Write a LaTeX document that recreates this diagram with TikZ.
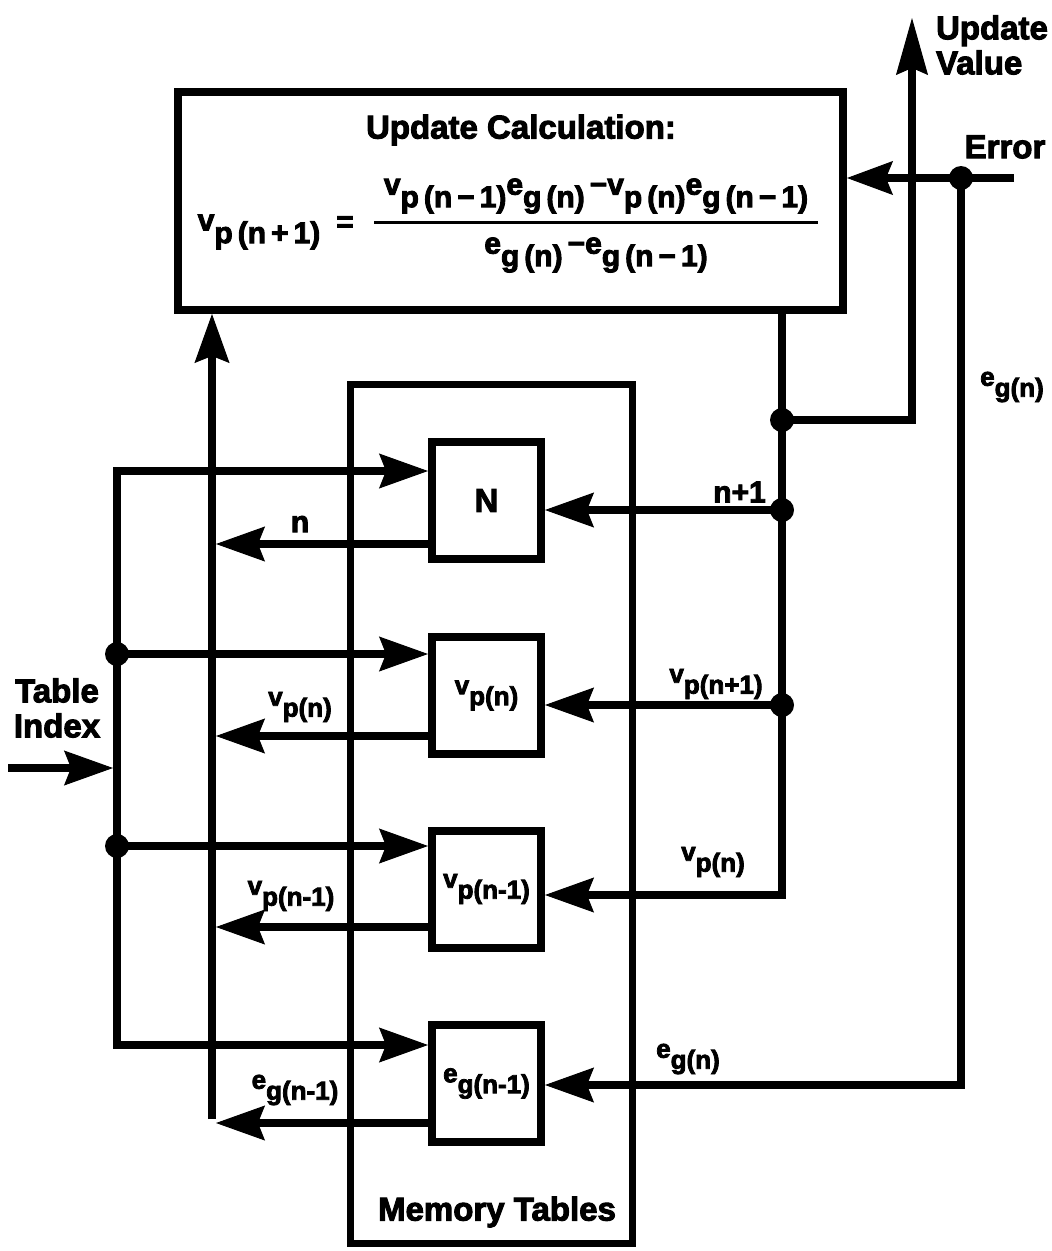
\documentclass[tikz,border=0pt]{standalone}
\usepackage{fontspec}
\setmainfont{Liberation Sans}[BoldFeatures={FakeBold=3}]
\usetikzlibrary{arrows.meta}
\newcommand\vsb[2]{#1\raisebox{-0.42em}{#2}}
\newcommand\bigf{\fontsize{33}{35}\selectfont\bfseries}
\newcommand\subf{\fontsize{26}{27}\selectfont\bfseries}
\newcommand\eqf{\fontsize{30}{32}\selectfont\bfseries}
\newcommand\midf{\fontsize{30}{32}\selectfont\bfseries}
\begin{document}
\begin{tikzpicture}[x=1pt,y=-1pt,
  wire/.style={line width=8pt, line join=miter},
  arr/.style={wire,-{Stealth[length=49pt,width=35pt,inset=7pt,line width=1pt]}},
  biarr/.style={wire,{Stealth[length=49pt,width=35pt,inset=7pt,line width=1pt]}-{Stealth[length=49pt,width=35pt,inset=7pt,line width=1pt]}},
  box/.style={draw, line width=8pt, minimum width=109pt, minimum height=117pt, inner sep=0pt, font=\subf},
  lbl/.style={inner sep=0pt, font=\subf},
  eql/.style={inner sep=0pt, font=\eqf},
  big/.style={inner sep=0pt, font=\bigf}]
\useasboundingbox (0,0) rectangle (1052,1251);

% main blocks
\node[draw, line width=8pt, minimum width=665pt, minimum height=218pt, inner sep=0pt] (upd) at (510.5,201) {};
\node[draw, line width=7pt, minimum width=282pt, minimum height=859pt, inner sep=0pt] (mem) at (491.5,813.5) {};
\node[box, font=\bigf] (bN) at (486.5,500.5) {N};
\node[box] (bV) at (486.5,695.5) {\vsb{v}{p(n)}};
\node[box] (bVm) at (486.5,889) {\vsb{v}{p(n-1)}};
\node[box] (bE) at (486.5,1083.5) {\vsb{e}{g(n-1)}};

% texts in update box
\node[big] (title) at (521,130) {Update Calculation:};
\node[eql] (lhs) at (259,232) {\vsb{v}{p\,(n\,+\,1)}};
\node[eql] (eq) at (345,224) {=};
\node[eql] (num) at (596,196) {\vsb{v}{p\,(n\,−\,1)}\vsb{e}{g\,(n)}\,−\vsb{v}{p\,(n)}\vsb{e}{g\,(n\,−\,1)}};
\node[eql] (den) at (596,255) {\vsb{e}{g\,(n)}\,−\vsb{e}{g\,(n\,−\,1)}};
\draw[line width=3pt] (374,222) -- (818,222);

\node[big] (memlbl) at (497,1212) {Memory Tables};
\node[big, align=left] (uvl) at (992,45) {Update\\Value};
\node[big] (errl) at (1005,147) {Error};
\node[big, align=center] (til) at (57,708) {Table\\Index};

% coordinates
\coordinate (L1) at (117,471);
\coordinate (L2) at (117,654);
\coordinate (L3) at (117,846);
\coordinate (L4) at (117,1045);
\coordinate (Lin) at (113,768);
\coordinate (TI) at (8,768);
\coordinate (B1) at (212,544);
\coordinate (B2) at (212,736);
\coordinate (B3) at (212,927);
\coordinate (B4) at (212,1123);
\coordinate (J1) at (782,420);
\coordinate (J2) at (782,510);
\coordinate (J3) at (782,705);
\coordinate (C4) at (782,895);
\coordinate (UVc) at (912,420);
\coordinate (UV) at (912,18);
\coordinate (Ein) at (1014,178);
\coordinate (E1) at (961,178);
\coordinate (E2) at (961,1085);

% left bus
\draw[biarr] (L1 -| bN.west) -- (L1) -- (L4) -- (L4 -| bE.west);
\draw[arr] (L2) -- (L2 -| bV.west);
\draw[arr] (L3) -- (L3 -| bVm.west);
\draw[arr] (TI) -- (Lin);
\fill (L2) circle[radius=12pt];
\fill (L3) circle[radius=12pt];

% return bus
\draw[arr] ([yshift=4pt]B4) -- (B4 |- upd.south);
\draw[arr] (B1 -| bN.west) -- ([xshift=4pt]B1);
\draw[arr] (B2 -| bV.west) -- ([xshift=4pt]B2);
\draw[arr] (B3 -| bVm.west) -- ([xshift=4pt]B3);
\draw[arr] (B4 -| bE.west) -- ([xshift=4pt]B4);

% right bus
\draw[arr] (J1 |- upd.south) -- (C4) -- (C4 -| bVm.east);
\draw[arr] (J2) -- (J2 -| bN.east);
\draw[arr] (J3) -- (J3 -| bV.east);
\draw[wire,-{Stealth[length=57pt,width=32pt,inset=7pt,line width=1pt]}] (J1) -- (UVc) -- (UV);
\fill (J1) circle[radius=12pt];
\fill (J2) circle[radius=12pt];
\fill (J3) circle[radius=12pt];

% error
\draw[wire,-{Stealth[length=46pt,width=34pt,inset=7pt,line width=1pt]}] (Ein) -- (Ein -| upd.east);
\draw[arr] (E1) -- (E2) -- (E2 -| bE.east);
\fill (E1) circle[radius=12pt];

% wire labels
\node[inner sep=0pt, font=\midf] (ln) at (300,524) {n};
\node[lbl] (lvp) at (300,707) {\vsb{v}{p(n)}};
\node[lbl] (lvpm) at (291,896) {\vsb{v}{p(n-1)}};
\node[lbl] (legm) at (295,1090) {\vsb{e}{g(n-1)}};
\node[inner sep=0pt, font=\midf, anchor=east] (ln1) at (766,492) {n+1};
\node[lbl] (lvp1) at (716,684) {\vsb{v}{p(n+1)}};
\node[lbl] (lvpr) at (713,862) {\vsb{v}{p(n)}};
\node[lbl] (legn) at (688,1059) {\vsb{e}{g(n)}};
\node[lbl] (legr) at (1012,387) {\vsb{e}{g(n)}};
\end{tikzpicture}
\end{document}
